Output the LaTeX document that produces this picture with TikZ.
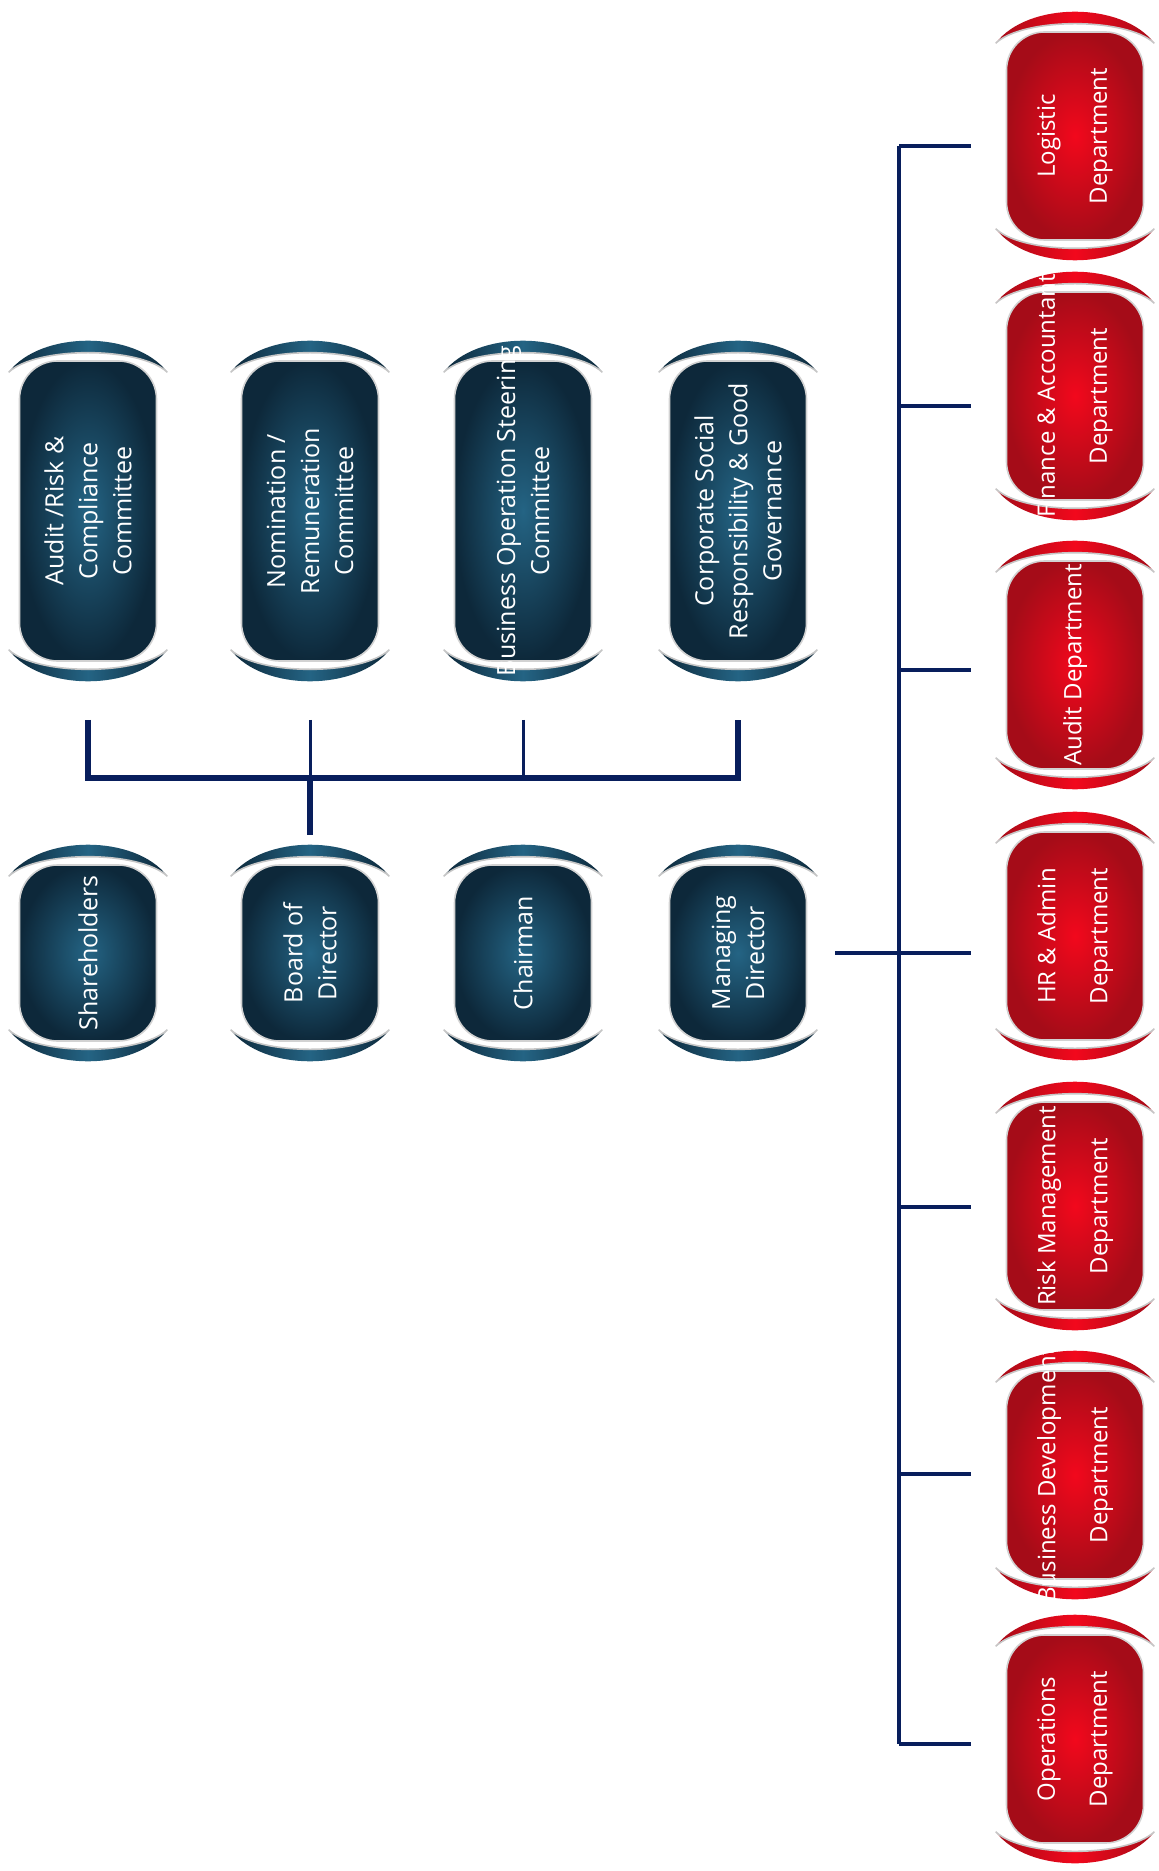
\documentclass[tikz,border=0pt]{standalone}
\usepackage{fontspec}
\setmainfont{Open Sans}
\usetikzlibrary{calc}
\definecolor{tealdark}{RGB}{13,40,58}
\definecolor{teallight}{RGB}{36,100,132}
\definecolor{reddark}{RGB}{165,12,24}
\definecolor{redlight}{RGB}{242,8,28}
\definecolor{navy}{RGB}{8,30,92}

% curved lids above and below a box: #1 node, #2 dark, #3 light
\newcommand{\lids}[3]{%
  \shade[left color=#2, right color=#2, middle color=#3]
    ($(#1.north west)+(-10,12)$) .. controls ($(#1.north west)+(22,-30)$) and ($(#1.north east)+(-22,-30)$) .. ($(#1.north east)+(10,12)$)
    .. controls ($(#1.north east)+(-18,-14)$) and ($(#1.north west)+(18,-14)$) .. cycle;
  \draw[gray!45, line width=0.8pt]
    ($(#1.north east)+(10,12)$) .. controls ($(#1.north east)+(-18,-14)$) and ($(#1.north west)+(18,-14)$) .. ($(#1.north west)+(-10,12)$);
  \shade[left color=#2, right color=#2, middle color=#3]
    ($(#1.south west)+(-10,-12)$) .. controls ($(#1.south west)+(22,30)$) and ($(#1.south east)+(-22,30)$) .. ($(#1.south east)+(10,-12)$)
    .. controls ($(#1.south east)+(-18,14)$) and ($(#1.south west)+(18,14)$) .. cycle;
  \draw[gray!45, line width=0.8pt]
    ($(#1.south east)+(10,-12)$) .. controls ($(#1.south east)+(-18,14)$) and ($(#1.south west)+(18,14)$) .. ($(#1.south west)+(-10,-12)$);
}

\begin{document}
\begin{tikzpicture}[x=0.5pt, y=-0.5pt,
    body/.style={rectangle, rounded corners=19pt, minimum width=68.5pt,
      inner sep=0pt, draw=gray!35, line width=0.8pt},
    combody/.style={body, minimum height=150pt, inner color=teallight, outer color=tealdark},
    rowbody/.style={body, minimum height=88pt, inner color=teallight, outer color=tealdark},
    redbody/.style={body, minimum height=104pt, inner color=redlight, outer color=reddark},
    lbl/.style={rotate=90, text=white, align=center, inner sep=0pt,
      font=\fontsize{12.5}{17}\selectfont},
    redlbl/.style={lbl, font=\fontsize{12}{26}\selectfont},
    heavy/.style={navy, line width=2.6pt},
    light/.style={navy, line width=1.5pt},
    trunkline/.style={navy, line width=1.8pt}]
  \useasboundingbox (0,0) rectangle (1158,1871);

  % committees
  \foreach \cx/\nm/\txt in {88/aud/{Audit /Risk \&\\Compliance\\Committee},
      310/nom/{Nomination /\\Remuneration\\Committee},
      523/bos/{Business Operation Steering\\Committee},
      738/csr/{Corporate Social\\Responsibility \& Good\\Governance}}
  {
    \node[combody] (\nm) at (\cx,511) {};
    \lids{\nm}{tealdark}{teallight}
    \node[lbl] (\nm-txt) at (\nm) {\txt};
  }

  % board row
  \foreach \cx/\nm/\txt in {88/sh/Shareholders, 310/bod/{Board of\\Director},
      523/chr/Chairman, 738/md/{Managing\\Director}}
  {
    \node[rowbody] (\nm) at (\cx,953) {};
    \lids{\nm}{tealdark}{teallight}
    \node[lbl] (\nm-txt) at (\nm) {\txt};
  }

  % departments
  \foreach \cy/\nm/\txt in {136/log/{Logistic\\Department},
      396/fin/{Finance \& Accountant\\Department},
      665/adt/{Audit Department},
      936/hr/{HR \& Admin\\Department},
      1206/risk/{Risk Management\\Department},
      1475/bdev/{Business Development\\Department},
      1739/ops/{Operations\\Department}}
  {
    \node[redbody] (\nm) at (1075,\cy) {};
    \lids{\nm}{reddark}{redlight}
    \begin{scope}
      \clip ($(\nm.north west)+(-10,-20)$) rectangle ($(\nm.south east)+(10,60)$);
      \node[redlbl] (\nm-txt) at (\nm) {\txt};
    \end{scope}
  }

  \coordinate (bar) at (0,778);
  \coordinate (trunk) at (899,0);

  % committee bracket
  \draw[heavy] ($(aud.south)+(0,58)$) -- (aud |- bar) -- (csr |- bar) -- ($(csr.south)+(0,58)$);
  \draw[light] ($(nom.south)+(0,58)$) -- (nom |- bar);
  \draw[light] ($(bos.south)+(0,58)$) -- (bos |- bar);
  \draw[heavy] (nom |- bar) -- ($(bod.north)+(0,-29)$);

  % department tree
  \draw[trunkline] ($(trunk |- log)+(0,10)$) -- ($(trunk |- ops)+(0,5)$);
  \foreach \nm/\dy in {log/10,fin/10,adt/5,risk/1,bdev/-1,ops/5}
    \draw[trunkline] ($(trunk |- \nm)+(0,\dy)$) -- ($(\nm.west)+(-35,\dy)$);
  \draw[trunkline] ($(md.east)+(28,0)$) -- ($(hr.west |- md)+(-35,0)$);
\end{tikzpicture}
\end{document}
